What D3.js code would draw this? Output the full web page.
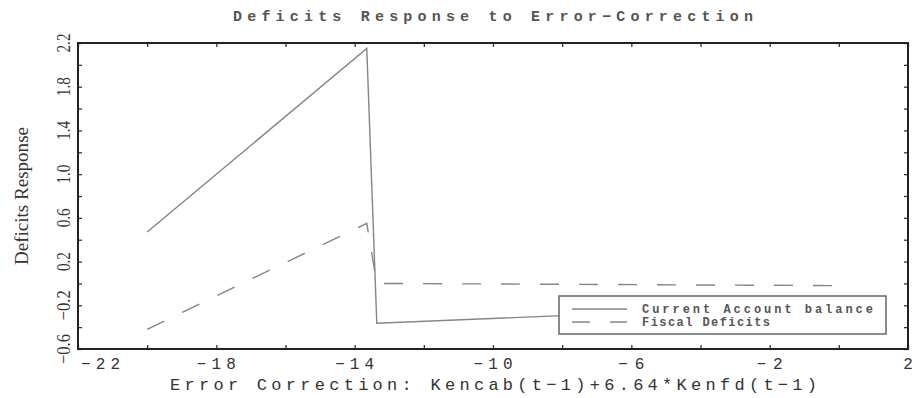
<!DOCTYPE html>
<html>
<head>
<meta charset="utf-8">
<script src="https://cdn.jsdelivr.net/npm/d3@7"></script>
<style>
  body { margin: 0; background: #fff; }
  svg { display: block; }
</style>
</head>
<body>
<div id="chart"></div>
<script>
// values
var cabX = [-20, -13.65, -13.36, 0];
var cabY = [0.47, 2.15, -0.365, -0.19];
var fisX = [-20, -13.65, -13.36, 0];
var fisY = [-0.42, 0.55, 0.0, -0.02];
var xTicks = [-22, -20, -18, -16, -14, -12, -10, -8, -6, -4, -2, 0, 2];
var xLabels = [-22, -18, -14, -10, -6, -2, 2];
var yTicks = [-0.6, -0.4, -0.2, 0, 0.2, 0.4, 0.6, 0.8, 1.0, 1.2, 1.4, 1.6, 1.8, 2.0, 2.2];
var yLabels = [-0.6, -0.2, 0.2, 0.6, 1.0, 1.4, 1.8, 2.2];
var seriesNames = ["Current Account balance", "Fiscal Deficits"];

var W = 920, H = 398;
var margin = {top: 43, right: 12, bottom: 49, left: 78},
    width = W - margin.left - margin.right,
    height = H - margin.top - margin.bottom;

var svg = d3.select("#chart").append("svg")
    .attr("width", W)
    .attr("height", H);

var g = svg.append("g")
    .attr("transform", "translate(" + margin.left + "," + margin.top + ")");

var x = d3.scaleLinear().domain([-22, 2]).range([0, width]);
var y = d3.scaleLinear().domain([-0.6, 2.2]).range([height, 0]);

var mono = "'Liberation Mono', 'DejaVu Sans Mono', monospace";
var serif = "'Liberation Serif', 'DejaVu Serif', serif";
var minus = function(v) { return String(v).replace("-", "\u2212"); };

// lines
var line = d3.line()
    .x(function(d) { return x(d[0]); })
    .y(function(d) { return y(d[1]); });

g.append("path")
    .datum(d3.zip(cabX, cabY))
    .attr("d", line)
    .attr("fill", "none")
    .attr("stroke", "#858585")
    .attr("stroke-width", 1.4);

g.append("path")
    .datum(d3.zip(fisX, fisY))
    .attr("d", line)
    .attr("fill", "none")
    .attr("stroke", "#858585")
    .attr("stroke-width", 1.4)
    .attr("stroke-dasharray", "19,20");

// axes with inward ticks on all four sides
function styleAxis(sel) {
  sel.select(".domain").remove();
  sel.selectAll(".tick line").attr("stroke", "#333").attr("stroke-width", 1.3);
  sel.selectAll(".tick text").remove();
}
g.append("g").attr("transform", "translate(0," + height + ")")
    .call(d3.axisBottom(x).tickValues(xTicks).tickSize(-4)).call(styleAxis);
g.append("g")
    .call(d3.axisTop(x).tickValues(xTicks).tickSize(-4)).call(styleAxis);
g.append("g")
    .call(d3.axisLeft(y).tickValues(yTicks).tickSize(-4)).call(styleAxis);
g.append("g").attr("transform", "translate(" + width + ",0)")
    .call(d3.axisRight(y).tickValues(yTicks).tickSize(-4)).call(styleAxis);

// frame
g.append("rect")
    .attr("width", width)
    .attr("height", height)
    .attr("fill", "none")
    .attr("stroke", "#222")
    .attr("stroke-width", 2);

// x tick labels
g.selectAll(".xlab")
    .data(xLabels)
    .enter().append("text")
    .attr("class", "xlab")
    .attr("x", function(d, i) { return i === 0 ? x(d) + 3 : x(d); })
    .attr("y", height + 20)
    .attr("text-anchor", function(d, i) { return i === 0 ? "start" : "middle"; })
    .attr("font-family", mono)
    .attr("font-size", 16)
    .attr("fill", "#333")
    .attr("textLength", function(d) { return minus(d).length * 13; })
    .attr("lengthAdjust", "spacing")
    .text(function(d) { return minus(d); });

// y tick labels (rotated)
g.selectAll(".ylab")
    .data(yLabels)
    .enter().append("text")
    .attr("class", "ylab")
    .attr("transform", function(d) { return "translate(-8," + y(d) + ") rotate(-90) scale(1,1.15)"; })
    .attr("text-anchor", "middle")
    .attr("font-family", serif)
    .attr("font-size", 17)
    .attr("fill", "#333")
    .attr("textLength", function(d) { return d < 0 ? 30 : 19; })
    .attr("lengthAdjust", "spacingAndGlyphs")
    .text(function(d) { return minus(d.toFixed(1)); });

// titles
svg.append("text")
    .attr("x", 233)
    .attr("y", 21)
    .attr("font-family", mono)
    .attr("font-size", 15)
    .attr("font-weight", "bold")
    .attr("fill", "#555")
    .attr("textLength", 520)
    .attr("lengthAdjust", "spacing")
    .text("Deficits Response to Error\u2212Correction");

svg.append("text")
    .attr("x", 170)
    .attr("y", 390)
    .attr("font-family", mono)
    .attr("font-size", 17)
    .attr("fill", "#333")
    .attr("textLength", 647)
    .attr("lengthAdjust", "spacing")
    .text("Error Correction: Kencab(t\u22121)+6.64*Kenfd(t\u22121)");

svg.append("text")
    .attr("transform", "translate(28,196) rotate(-90)")
    .attr("text-anchor", "middle")
    .attr("font-family", serif)
    .attr("font-size", 19)
    .attr("fill", "#333")
    .attr("textLength", 138)
    .attr("lengthAdjust", "spacingAndGlyphs")
    .text("Deficits Response");

// legend
var legend = svg.append("g").attr("transform", "translate(559,296)");
legend.append("rect")
    .attr("width", 327)
    .attr("height", 38)
    .attr("fill", "#fff")
    .attr("stroke", "#666")
    .attr("stroke-width", 1.5);

var legendLen = [231, 128];
seriesNames.forEach(function(name, i) {
  var ly = 13 + i * 13;
  legend.append("line")
      .attr("x1", 13).attr("x2", 68)
      .attr("y1", ly).attr("y2", ly)
      .attr("stroke", "#858585")
      .attr("stroke-width", 1.4)
      .attr("stroke-dasharray", i === 1 ? "18,20" : null);
  legend.append("text")
      .attr("x", 83)
      .attr("y", ly + 4)
      .attr("font-family", mono)
      .attr("font-size", 12)
      .attr("font-weight", "bold")
      .attr("fill", "#555")
      .attr("textLength", legendLen[i])
      .attr("lengthAdjust", "spacing")
      .text(name);
});
</script>
</body>
</html>
